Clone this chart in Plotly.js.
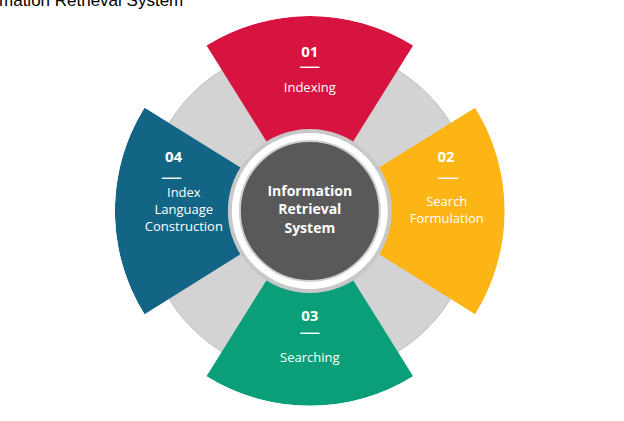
<!DOCTYPE html>
<html>
<head>
<script src="https://cdn.plot.ly/plotly-3.0.1.min.js"></script>
<style>body{margin:0;background:#fff}#chart{width:624px;height:421px}</style>
</head>
<body>
<div id="chart"></div>
<script>
// stages of the cycle, clockwise from the top
const stageNumbers = ['01', '02', '03', '04'];
const stageLabels = ['Indexing', 'Search<br>Formulation', 'Searching', 'Index<br>Language<br>Construction'];
const stageAngles = [0, 90, 180, 270];
const connectorAngles = [45, 135, 225, 315];
const centerLabel = '<b>Information<br>Retrieval<br>System</b>';
const titleText = 'Information Retrieval System';

const stageColors = ['#D7143F', '#FDB515', '#0A9F78', '#136585'];

// text placement (radius, angle) per stage
const numberR = [158, 146, 106, 146];
const numberT = [0, 69, 180, 291];
const lineR = [143, 142, 123, 142];
const lineT = [0, 77, 180, 283];
const labelR = [122, 137, 148, 126];
const labelT = [0, 90, 180, 270];

const traces = [
  { type: 'barpolar', theta: connectorAngles, r: [88, 88, 88, 88], base: 78,
    width: 34, marker: { color: '#D3D3D3', line: { color: '#BDBDBD', width: 1 } }, hoverinfo: 'none' },
  { type: 'barpolar', theta: stageAngles, r: [117, 117, 117, 117], base: 78,
    width: 64, marker: { color: stageColors, line: { width: 0 } }, hoverinfo: 'none' },
  { type: 'barpolar', theta: [0], r: [80], base: 0, width: 360,
    marker: { color: '#FFFFFF', line: { color: '#C8C8C8', width: 4 } }, hoverinfo: 'none' },
  { type: 'barpolar', theta: [0], r: [70], base: 0, width: 360,
    marker: { color: '#595959', line: { color: '#D0D0D0', width: 2 } }, hoverinfo: 'none' },
  { type: 'scatterpolar', mode: 'text', r: [0], theta: [0], text: [centerLabel],
    textfont: { family: 'Open Sans', size: 14, color: '#fff' }, hoverinfo: 'none' },
  { type: 'scatterpolar', mode: 'text', r: numberR, theta: numberT,
    text: stageNumbers.map(n => '<b>' + n + '</b>'),
    textfont: { family: 'Open Sans', size: 15, color: '#fff' }, hoverinfo: 'none' },
  { type: 'scatterpolar', mode: 'text', r: lineR, theta: lineT,
    text: stageNumbers.map(() => '━━━━'),
    textfont: { family: 'DejaVu Sans', size: 8, color: '#fff' }, hoverinfo: 'none' },
  { type: 'scatterpolar', mode: 'text', r: labelR, theta: labelT, text: stageLabels,
    textfont: { family: 'Open Sans', size: 13, color: '#fff' }, hoverinfo: 'none' }
];

const layout = {
  width: 624, height: 421,
  margin: { l: 0, r: 0, t: 0, b: 0 },
  paper_bgcolor: '#fff',
  showlegend: false,
  polar: {
    domain: { x: [0.184, 0.809], y: [0.036, 0.962] },
    bgcolor: 'rgba(0,0,0,0)',
    hole: 0,
    radialaxis: { range: [0, 195], visible: false },
    angularaxis: { rotation: 90, direction: 'clockwise', visible: false }
  },
  annotations: [{
    text: titleText, xref: 'paper', yref: 'paper', x: -0.06, y: 1.025,
    xanchor: 'left', yanchor: 'top', showarrow: false,
    font: { family: 'Liberation Sans', size: 17, color: '#000' }
  }]
};

Plotly.newPlot('chart', traces, layout, { displayModeBar: false, staticPlot: true });
</script>
</body>
</html>
